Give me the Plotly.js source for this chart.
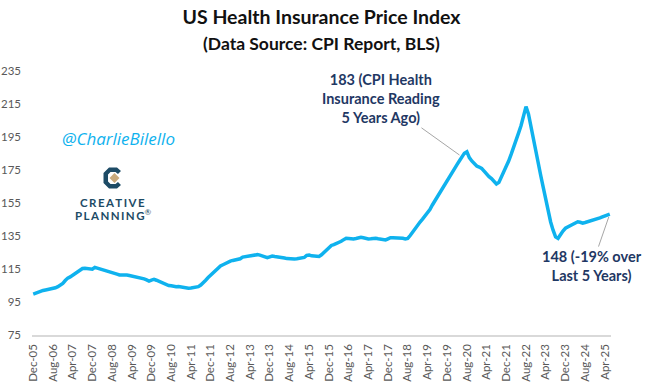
<!DOCTYPE html>
<html>
<head>
<meta charset="utf-8">
<script src="https://cdn.plot.ly/plotly-3.0.1.min.js"></script>
<style>
  html, body { margin: 0; padding: 0; background: #ffffff; }
  #chart { width: 645px; height: 384px; }
</style>
</head>
<body>
<div id="chart"></div>
<script>
// ---- Data ----
const startYear = 2005;
const startMonth = 11; // December (0-based)
const monthNames = ["Jan","Feb","Mar","Apr","May","Jun","Jul","Aug","Sep","Oct","Nov","Dec"];

// US CPI Health Insurance index, monthly Dec-05 .. Jun-25
const indexValues = [
  99.8, 100.5, 101.0, 101.7, 102.0, 102.3, 102.5, 102.7, 103.0, 103.6, 104.3, 105.2,
  106.3, 108.0, 109.5, 110.2, 111.2, 112.0, 112.8, 114.2, 115.3, 115.5, 115.4, 115.3,
  114.9, 116.0, 115.6, 115.0, 114.6, 114.2, 113.8, 113.3, 113.0, 112.4, 111.9, 111.4,
  111.5, 111.6, 111.4, 111.1, 110.8, 110.5, 110.0, 109.8, 109.4, 109.0, 108.4, 107.7,
  108.3, 108.7, 108.2, 107.5, 106.8, 106.3, 105.6, 105.0, 104.8, 104.4, 104.2, 104.4,
  104.0, 103.8, 103.5, 103.3, 103.5, 103.7, 103.9, 104.3, 105.3, 106.5, 108.2, 109.8,
  111.3, 112.6, 114.3, 115.8, 116.9, 117.6, 118.5, 119.3, 119.8, 120.2, 120.6, 120.9,
  121.2, 122.2, 122.5, 122.4, 122.8, 122.9, 123.3, 123.7, 123.4, 122.8, 122.2, 121.9,
  122.4, 122.9, 122.6, 122.5, 122.4, 122.1, 121.7, 121.3, 121.1, 121.1, 121.1, 121.2,
  121.5, 121.8, 122.0, 123.3, 123.5, 123.0, 122.8, 122.9, 122.6, 123.6, 125.2, 126.5,
  128.0, 129.3, 129.8, 130.4, 130.9, 131.8, 132.8, 133.6, 133.5, 133.3, 133.2, 133.5,
  133.9, 134.2, 133.9, 133.5, 133.2, 133.3, 133.6, 133.6, 133.3, 133.0, 132.8, 132.6,
  133.3, 134.0, 134.0, 133.9, 134.0, 134.0, 133.6, 133.2, 133.5, 135.3, 137.5, 139.5,
  141.5, 143.5, 145.2, 147.0, 148.8, 151.0, 153.8, 156.3, 158.8, 161.3, 163.8, 166.5,
  169.2, 171.7, 174.0, 176.2, 178.3, 180.6, 183.0, 185.2, 186.1, 182.5, 180.5, 178.6,
  177.4, 176.8, 176.0, 174.3, 172.5, 171.0, 169.8, 168.2, 166.5, 167.5, 170.5, 173.4,
  176.8, 180.6, 184.6, 188.5, 192.6, 197.5, 202.0, 207.0, 213.4, 209.0, 201.0, 193.5,
  186.0, 178.5, 171.5, 164.5, 157.0, 150.0, 143.5, 138.5, 134.5, 133.6, 136.0, 138.0,
  139.7, 140.5, 141.2, 141.9, 142.6, 143.6, 143.3, 142.8, 143.2, 143.6, 144.0, 144.3,
  144.8, 145.3, 146.0, 146.6, 147.2, 147.8, 148.3
];

const tickLabels = [
  "Dec-05","Aug-06","Apr-07","Dec-07","Aug-08","Apr-09","Dec-09","Aug-10","Apr-11","Dec-11",
  "Aug-12","Apr-13","Dec-13","Aug-14","Apr-15","Dec-15","Aug-16","Apr-17","Dec-17","Aug-18",
  "Apr-19","Dec-19","Aug-20","Apr-21","Dec-21","Aug-22","Apr-23","Dec-23","Aug-24","Apr-25"
];
const yTicks = [75, 95, 115, 135, 155, 175, 195, 215, 235];

const fiveYearsAgoLabel = "Jun-20";
const fiveYearsAgoValue = 183;
const lastLabelText = "148 (-19% over<br>Last 5 Years)";
const pastLabelText = "183 (CPI Health<br>Insurance Reading<br>5 Years Ago)";

// month category labels
const months = indexValues.map((_, i) => {
  const t = startMonth + i;
  const y = startYear + Math.floor(t / 12);
  return monthNames[t % 12] + "-" + String(y % 100).padStart(2, "0");
});

// ---- Layout helpers ----
const W = 645, H = 384;
const M = { l: 32, r: 34, t: 71, b: 49 };
const px2x = px => (px - M.l) / (W - M.l - M.r);
const px2y = py => (H - M.b - py) / (H - M.t - M.b);
function pathFrom(points) {
  return "M " + points.map(p => px2x(p[0]).toFixed(4) + "," + px2y(p[1]).toFixed(4)).join(" L ") + " Z";
}

const FONT = "Lato, 'Open Sans', sans-serif";
const NAVY = "#1f3864";
const BLUE = "#0fb2ee";
const LOGO = "#1d4b66";

const lastIdx = indexValues.length - 1;

const trace = {
  type: "scatter",
  mode: "lines",
  x: months,
  y: indexValues,
  line: { color: BLUE, width: 3.5, shape: "linear" },
  hoverinfo: "skip",
  showlegend: false
};

// Logo emblem (decoration)
const emblemC = [
  [121,171],[117,167.5],[109,167.5],[103.5,173],[103.5,183],[109,188.5],[117,188.5],[121,185],
  [118,182],[115.5,184],[110.5,184],[108,181.5],[108,174.5],[110.5,172],[115.5,172],[118,174]
];
const emblemDiamond = [[109.5,178],[114.5,173],[119.5,178],[114.5,183]];

const layout = {
  width: W,
  height: H,
  margin: M,
  paper_bgcolor: "#ffffff",
  plot_bgcolor: "#ffffff",
  font: { family: FONT, color: "#595959", size: 11 },
  title: {
    text: "<b>US Health Insurance Price Index</b>",
    font: { family: FONT, size: 19.5, color: "#111111" },
    x: 0.5, xref: "paper", xanchor: "center",
    y: 1 - 17 / H, yref: "container", yanchor: "middle"
  },
  xaxis: {
    type: "category",
    range: [-0.5, lastIdx + 0.5],
    tickmode: "array",
    tickvals: tickLabels,
    ticktext: tickLabels,
    tickangle: -90,
    showgrid: false,
    zeroline: false,
    showline: true,
    linecolor: "#d9d9d9",
    linewidth: 1.5,
    ticks: "",
    ticklabelstandoff: 3,
    tickfont: { family: FONT, size: 11.5, color: "#595959" },
    fixedrange: true
  },
  yaxis: {
    range: [75, 235],
    tickmode: "array",
    tickvals: yTicks,
    ticktext: yTicks.map(String),
    showgrid: false,
    zeroline: false,
    showline: false,
    ticks: "",
    ticklabelstandoff: 10,
    tickfont: { family: FONT, size: 11.5, color: "#595959" },
    fixedrange: true
  },
  annotations: [
    {
      xref: "paper", yref: "paper",
      x: 0.5, y: px2y(43),
      xanchor: "center", yanchor: "middle",
      text: "<b>(Data Source: CPI Report, BLS)</b>",
      showarrow: false,
      font: { family: FONT, size: 17.5, color: "#111111" }
    },
    {
      xref: "x", yref: "y",
      x: fiveYearsAgoLabel, y: fiveYearsAgoValue,
      ax: -81, ay: -58,
      text: "<b>" + pastLabelText + "</b>",
      showarrow: true, arrowhead: 0, arrowwidth: 1, arrowcolor: "#a6a6a6", standoff: 3,
      font: { family: FONT, size: 14.5, color: NAVY },
      align: "center"
    },
    {
      xref: "x", yref: "y",
      x: months[lastIdx], y: indexValues[lastIdx],
      ax: -18, ay: 52,
      text: "<b>" + lastLabelText + "</b>",
      showarrow: true, arrowhead: 0, arrowwidth: 1, arrowcolor: "#a6a6a6", standoff: 3,
      font: { family: FONT, size: 14.5, color: NAVY },
      align: "center"
    },
    {
      xref: "paper", yref: "paper",
      x: px2x(118), y: px2y(138),
      xanchor: "center", yanchor: "middle",
      text: "<i>@CharlieBilello</i>",
      showarrow: false,
      font: { family: "'Open Sans', sans-serif", size: 17, color: BLUE }
    },
    {
      xref: "paper", yref: "paper",
      x: px2x(112.5), y: px2y(202),
      xanchor: "center", yanchor: "middle",
      text: "<b>C\u2009R\u2009E\u2009A\u2009T\u2009I\u2009V\u2009E</b>",
      showarrow: false,
      font: { family: FONT, size: 11.5, color: LOGO }
    },
    {
      xref: "paper", yref: "paper",
      x: px2x(113), y: px2y(214),
      xanchor: "center", yanchor: "middle",
      text: "<b>P\u2009L\u2009A\u2009N\u2009N\u2009I\u2009N\u2009G</b><sup>\u00AE</sup>",
      showarrow: false,
      font: { family: FONT, size: 11.5, color: LOGO }
    }
  ],
  shapes: [
    { type: "path", xref: "paper", yref: "paper", path: pathFrom(emblemC),
      fillcolor: LOGO, line: { width: 0 } },
    { type: "path", xref: "paper", yref: "paper", path: pathFrom(emblemDiamond),
      fillcolor: "#c8aa7d", line: { width: 0 } }
  ]
};

Plotly.newPlot("chart", [trace], layout, { displayModeBar: false, staticPlot: true });
</script>
</body>
</html>
